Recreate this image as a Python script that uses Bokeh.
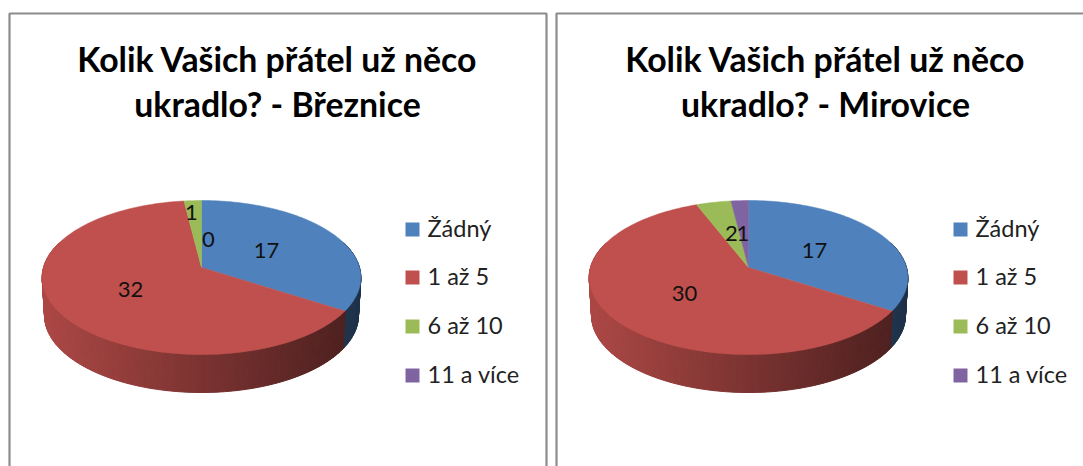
import math
from bokeh.core.properties import value
from bokeh.embed import file_html
from bokeh.layouts import row
from bokeh.models import Range1d
from bokeh.plotting import figure
from bokeh.resources import INLINE

categories = ["Žádný", "1 až 5", "6 až 10", "11 a více"]
titles_brez = ["Kolik Vašich přátel už něco", "ukradlo? - Březnice"]
titles_mir = ["Kolik Vašich přátel už něco", "ukradlo? - Mirovice"]
values_brez = [17, 32, 1, 0]
values_mir = [17, 30, 2, 1]
colors = ["#4F81BD", "#C0504D", "#9BBB59", "#8064A2"]

# projection of the tilted disc (screen pixels, y downwards)
TILT_A, TILT_B, PERSP, DEPTH = 75.7, 158.0, 0.13, 38.0


def proj(cx, cy, theta_deg, r=1.0):
    t = math.radians(theta_deg)
    dx, dy = r * math.sin(t), r * math.cos(t)
    w = 1 + PERSP * dy
    return cx + TILT_B * dx / w, cy - TILT_A * dy / w


def shade(hex_color, f):
    r, g, b = (int(hex_color[i:i + 2], 16) for i in (1, 3, 5))
    return "#%02x%02x%02x" % (int(r * f), int(g * f), int(b * f))


def panel(x0, x1, cx, values, titles, title_cx, label_pos, legend_x, border):
    p = figure(width=x1 - x0, height=466, x_range=Range1d(x0, x1), y_range=Range1d(466, 0),
               output_backend="svg", toolbar_location=None, min_border=0)
    p.axis.visible = False
    p.grid.visible = False
    p.outline_line_color = None
    p.background_fill_color = "white"

    # frame of the chart
    p.multi_line(xs=[border], ys=[[466, 13, 13, 466][:len(border)]],
                 line_color="#8C8C8C", line_width=2.2)

    cy = 267.0
    total = sum(values)
    bounds = [0.0]
    for v in values:
        bounds.append(bounds[-1] + 360.0 * v / total)

    # side wall, strip by strip, darkening from left to right
    left, right = cx - 160, cx + 160
    xs, ys, cs = [], [], []
    th = 70.0
    while th < 290.0:
        mid = th + 0.5
        k = next(i for i in range(len(values)) if bounds[i] <= mid < bounds[i + 1])
        xa, ya = proj(cx, cy, th)
        xb, yb = proj(cx, cy, th + 1.0)
        frac = (0.5 * (xa + xb) - left) / (right - left)
        xs.append([xa, xb, cx + (xb - cx) * 0.985, cx + (xa - cx) * 0.985])
        ys.append([ya, yb, yb + DEPTH, ya + DEPTH])
        cs.append(shade(colors[k], 0.90 - 0.52 * frac))
        th += 1.0
    p.patches(xs, ys, fill_color=cs, line_color=cs, line_width=1)

    # top surface
    for k, v in enumerate(values):
        if v == 0:
            continue
        n = max(2, int((bounds[k + 1] - bounds[k]) / 1.5))
        pts = [proj(cx, cy, bounds[k] + (bounds[k + 1] - bounds[k]) * i / n) for i in range(n + 1)]
        p.patch([cx] + [q[0] for q in pts], [cy] + [q[1] for q in pts],
                fill_color=colors[k], line_color=colors[k], line_width=0.5)

    # value labels
    p.text([q[0] for q in label_pos], [q[1] for q in label_pos], text=[str(v) for v in values],
           text_font=value("Lato"), text_font_size="22px", text_color="#111111",
           text_align="center", text_baseline="middle")

    # title
    p.text([title_cx, title_cx], [58, 103], text=titles, text_font=value("Lato"),
           text_font_style="bold", text_font_size="33.8px", text_color="#000000",
           text_align="center", text_baseline="middle")

    # legend
    rows = [229, 277, 326, 375]
    p.scatter([legend_x] * 4, rows, marker="square", size=14, fill_color=colors, line_color=None)
    p.text([legend_x + 15] * 4, [r - 2 for r in rows], text=categories, text_font=value("Lato"),
           text_font_size="23.5px", text_color="#222222", text_align="left", text_baseline="middle")
    return p


left_panel = panel(0, 551, 201, values_brez, titles_brez, 277,
                   [(266, 250), (130, 289), (191, 212), (208, 239)], 412,
                   [9, 9, 546, 546])
right_panel = panel(551, 1083, 748, values_mir, titles_mir, 825,
                    [(814, 250), (684, 293), (731, 233), (742.5, 233)], 960,
                    [556, 556, 1083])

page = row(left_panel, right_panel, spacing=0)
open("out.html", "w").write(file_html(page, INLINE))
